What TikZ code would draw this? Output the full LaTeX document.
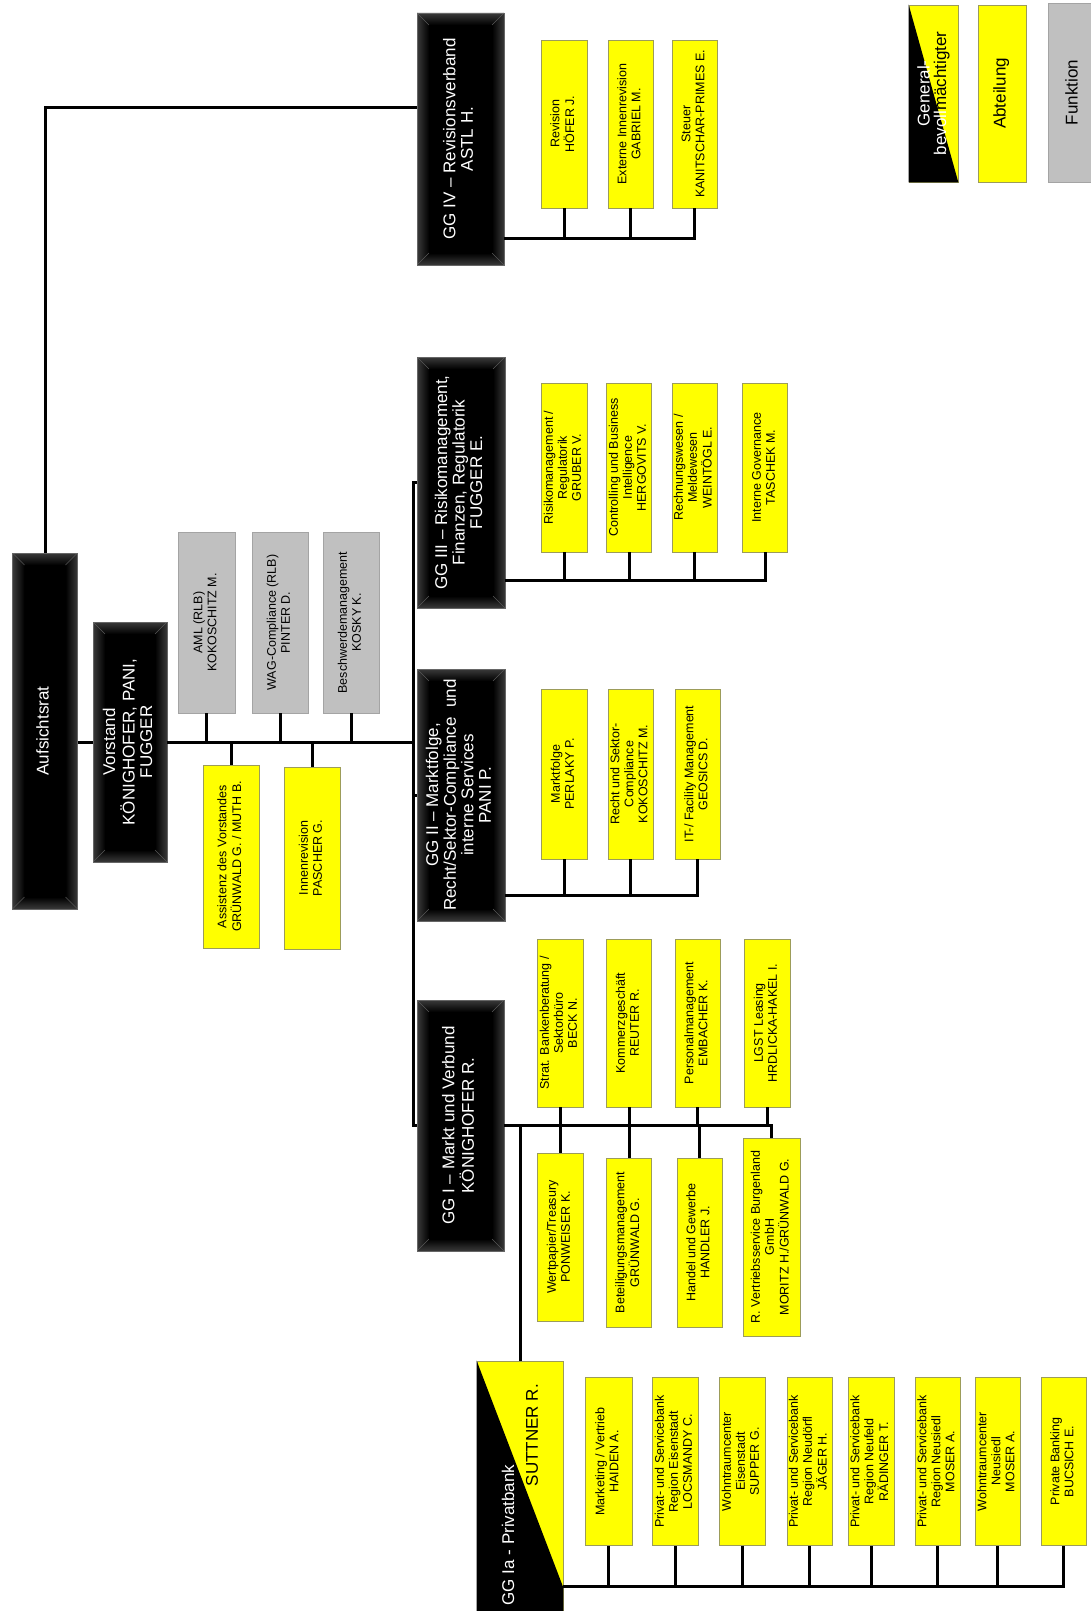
\documentclass[tikz,border=0pt]{standalone}
\usepackage{fontspec}
\setmainfont{Liberation Sans}
\usepackage{graphicx}
\usetikzlibrary{calc}

\definecolor{boxyellow}{HTML}{FFFF00}
\definecolor{yborder}{HTML}{9C9C5A}
\definecolor{funcgray}{HTML}{C0C0C0}
\definecolor{gborder}{HTML}{A4A4A4}
\definecolor{bevedge}{HTML}{3A3A3A}

% text set bottom-to-top inside a box
\newcommand\vtext[1]{\rotatebox{90}{\begin{tabular}{@{}c@{}}#1\end{tabular}}}

\begin{document}
\begin{tikzpicture}[
  x=1pt, y=1pt,
  conn/.style={line width=3pt, black},
  sz/.style 2 args={minimum width=#1, minimum height=#2},
  bevel/.style={path picture={
    \coordinate (q1) at (path picture bounding box.north west);
    \coordinate (q2) at (path picture bounding box.north east);
    \coordinate (q3) at (path picture bounding box.south east);
    \coordinate (q4) at (path picture bounding box.south west);
    \shade[top color=bevedge, bottom color=black]
      (q1) -- (q2) -- ([shift={(-12,-12)}]q2) -- ([shift={(12,-12)}]q1) -- cycle;
    \shade[left color=black, right color=bevedge]
      (q2) -- (q3) -- ([shift={(-12,12)}]q3) -- ([shift={(-12,-12)}]q2) -- cycle;
    \shade[top color=black, bottom color=bevedge]
      (q3) -- (q4) -- ([shift={(12,12)}]q4) -- ([shift={(-12,12)}]q3) -- cycle;
    \shade[left color=bevedge, right color=black]
      (q4) -- (q1) -- ([shift={(12,-12)}]q1) -- ([shift={(12,12)}]q4) -- cycle;
    \draw[black!65, line width=0.5pt]
      (q1) -- ([shift={(12,-12)}]q1) (q2) -- ([shift={(-12,-12)}]q2)
      (q3) -- ([shift={(-12,12)}]q3) (q4) -- ([shift={(12,12)}]q4);
  }},
  blackbox/.style={fill=black, draw=black!60, line width=0.6pt, text=white,
    inner sep=0pt, font=\fontsize{17}{17.5}\selectfont, bevel},
  deptbox/.style={fill=boxyellow, draw=yborder, line width=0.7pt,
    inner sep=0pt, font=\fontsize{12.5}{14}\selectfont},
  funcbox/.style={fill=funcgray, draw=gborder, line width=0.7pt,
    inner sep=0pt, font=\fontsize{12.5}{14}\selectfont},
  bigtext/.style={font=\fontsize{17}{16.5}\selectfont, inner sep=0pt}
]
\useasboundingbox[fill=white] (0,0) rectangle (1090,-1611);

% ---------- board and executive board ----------
\node[blackbox, sz={65}{356}] (aufs) at (45,-731) {\vtext{Aufsichtsrat}};
\node[blackbox, sz={74}{240}] (vor) at (130,-742) {\vtext{Vorstand\\KÖNIGHOFER, PANI,\\FUGGER}};

\node[funcbox, sz={57}{181}] (aml) at (206.5,-622.5) {\vtext{AML (RLB)\\KOKOSCHITZ M.}};
\node[funcbox, sz={56}{181}] (wag) at (280,-622.5) {\vtext{WAG-Compliance (RLB)\\PINTER D.}};
\node[funcbox, sz={56}{181}] (besch) at (351,-622.5) {\vtext{Beschwerdemanagement\\KOSKY K.}};

\node[deptbox, sz={56}{183}] (assist) at (231,-856.5) {\vtext{Assistenz des Vorstandes\\GRÜNWALD G. / MUTH B.}};
\node[deptbox, sz={56}{182}] (innrev) at (312,-858) {\vtext{Innenrevision\\PASCHER G.}};

% ---------- business areas ----------
\node[blackbox, sz={87}{252}] (gg4) at (460.5,-139) {\vtext{GG IV – Revisionsverband\\ASTL H.}};
\node[blackbox, sz={88}{251}] (gg3) at (461,-482.5) {\vtext{GG III – Risikomanagement,\\Finanzen, Regulatorik\\FUGGER E.}};
\node[blackbox, sz={88}{252}] (gg2) at (461,-795) {\vtext{GG II – Marktfolge,\\Recht/Sektor-Compliance\ \ und\\interne Services\\PANI P.}};
\node[blackbox, sz={87}{251}] (gg1) at (460.5,-1125.5) {\vtext{GG I – Markt und Verbund\\KÖNIGHOFER R.}};

% GG IV departments
\node[deptbox, sz={46}{168}] (rev) at (564,-124) {\vtext{Revision\\HÖFER J.}};
\node[deptbox, sz={45}{168}] (ext) at (630.5,-124) {\vtext{Externe Innenrevision\\GABRIEL M.}};
\node[deptbox, sz={45}{168}] (steuer) at (694.5,-124) {\vtext{Steuer\\KANITSCHAR-PRIMES E.}};

% GG III departments
\node[deptbox, sz={46}{169}] (risk) at (564,-467.5) {\vtext{Risikomanagement /\\Regulatorik\\GRUBER V.}};
\node[deptbox, sz={45}{169}] (contr) at (629,-467.5) {\vtext{Controlling und Business\\Intelligence\\HERGOVITS V.}};
\node[deptbox, sz={45}{169}] (rechn) at (694.5,-467.5) {\vtext{Rechnungswesen /\\Meldewesen\\WEINTÖGL E.}};
\node[deptbox, sz={45}{169}] (gov) at (765,-467.5) {\vtext{Interne Governance\\TASCHEK M.}};

% GG II departments
\node[deptbox, sz={46}{170}] (mf) at (564,-774) {\vtext{Marktfolge\\PERLAKY P.}};
\node[deptbox, sz={45}{170}] (recht) at (630.5,-774) {\vtext{Recht und Sektor-\\Compliance\\KOKOSCHITZ M.}};
\node[deptbox, sz={45}{170}] (it) at (697.5,-774) {\vtext{IT-/ Facility Management\\GEOSICS D.}};

% GG I departments
\node[deptbox, sz={46}{168}] (strat) at (560,-1023) {\vtext{Strat. Bankenberatung /\\Sektorbüro\\BECK N.}};
\node[deptbox, sz={45}{168}] (kommerz) at (629,-1023) {\vtext{Kommerzgeschäft\\REUTER R.}};
\node[deptbox, sz={45}{168}] (personal) at (697.5,-1023) {\vtext{Personalmanagement\\EMBACHER K.}};
\node[deptbox, sz={46}{168}] (lgst) at (767,-1023) {\vtext{LGST Leasing\\HRDLICKA-HAKEL I.}};
\node[deptbox, sz={46}{168}] (wert) at (560,-1237) {\vtext{Wertpapier/Treasury\\PONWEISER K.}};
\node[deptbox, sz={45}{169}] (beteil) at (629,-1242.5) {\vtext{Beteiligungsmanagement\\GRÜNWALD G.}};
\node[deptbox, sz={45}{169}] (handel) at (699.5,-1242.5) {\vtext{Handel und Gewerbe\\HANDLER J.}};
\node[deptbox, sz={57}{198}] (rvs) at (771.5,-1237) {\vtext{R. Vertriebsservice Burgenland\\GmbH\\MORITZ H./GRÜNWALD G.}};

% GG Ia private bank (split colour box)
\node[fill=boxyellow, draw=yborder, line width=0.7pt, sz={86}{260}] (gg1a) at (520,-1491) {};
\fill[black] (gg1a.north west) -- ($(gg1a.north east)+(0,-227)$) -- (gg1a.south east) -- (gg1a.south west) -- cycle;
\node[bigtext, rotate=90, text=black] (suttner) at (532,-1435) {SUTTNER R.};
\node[bigtext, rotate=90, text=white] (privat) at (508,-1535) {GG Ia - Privatbank};

\node[deptbox, sz={47}{168}] (mkt) at (608.5,-1461.5) {\vtext{Marketing / Vertrieb\\HAIDEN A.}};
\node[deptbox, sz={46}{168}] (pse) at (675,-1461.5) {\vtext{Privat- und Servicebank\\Region Eisenstadt\\LOCSMANDY C.}};
\node[deptbox, sz={46}{168}] (wte) at (742,-1461.5) {\vtext{Wohntraumcenter\\Eisenstadt\\SUPPER G.}};
\node[deptbox, sz={45}{168}] (psn) at (809.5,-1461.5) {\vtext{Privat- und Servicebank\\Region Neudörfl\\JÄGER H.}};
\node[deptbox, sz={46}{168}] (psf) at (871,-1461.5) {\vtext{Privat- und Servicebank\\Region Neufeld\\RÄDINGER T.}};
\node[deptbox, sz={45}{168}] (psd) at (937.5,-1461.5) {\vtext{Privat- und Servicebank\\Region Neusiedl\\MOSER A.}};
\node[deptbox, sz={45}{168}] (wtn) at (997.5,-1461.5) {\vtext{Wohntraumcenter\\Neusiedl\\MOSER A.}};
\node[deptbox, sz={45}{168}] (pbk) at (1063.5,-1461.5) {\vtext{Private Banking\\BUCSICH E.}};

% ---------- legend ----------
\node[fill=boxyellow, draw=yborder, line width=0.7pt, sz={49}{177}] (lg1) at (933.5,-93.5) {};
\fill[black] (lg1.north west) -- (lg1.south east) -- (lg1.south west) -- cycle;
\node[bigtext, rotate=90, align=center] (lg1t) at (lg1) {\textcolor{white}{General-}\\\textcolor{white}{bevoll}mächtigter};
\node[deptbox, sz={48}{177}, font=\fontsize{17}{17}\selectfont] (lg2) at (1002,-93.5) {\vtext{Abteilung}};
\node[funcbox, sz={52}{179}, font=\fontsize{17}{17}\selectfont] (lg3) at (1074,-92.5) {\vtext{Funktion}};

% ---------- connectors ----------
\coordinate (spine) at (413,0);
\coordinate (k4) at (0,-107);
\coordinate (b4) at (0,-238);
\coordinate (b3) at (0,-580);
\coordinate (b2) at (0,-895);
\coordinate (ba) at (0,-1586);

\draw[conn] (aufs.north) |- (gg4.west |- k4);
\draw[conn] (aufs.east |- vor.west) -- (vor.west);
\draw[conn] (vor.east) -- (vor.east -| spine);
\foreach \n in {aml,wag,besch} \draw[conn] (\n.south) -- (\n.south |- vor.east);
\foreach \n in {assist,innrev} \draw[conn] (\n.north) -- (\n.north |- vor.east);

\draw[conn] (gg3.west) -- (gg3.west -| spine) -- (gg1.west -| spine) -- (gg1.west);
\draw[conn] (gg2.west -| spine) -- (gg2.west);

\draw[conn] (gg4.east |- b4) -| (steuer.south);
\foreach \n in {rev,ext} \draw[conn] (\n.south) -- (\n.south |- b4);

\draw[conn] (gg3.east |- b3) -| (gov.south);
\foreach \n in {risk,contr,rechn} \draw[conn] (\n.south) -- (\n.south |- b3);

\draw[conn] (gg2.east |- b2) -| (it.south);
\foreach \n in {mf,recht} \draw[conn] (\n.south) -- (\n.south |- b2);

\draw[conn] (gg1.east) -| (rvs.north);
\foreach \n in {strat,kommerz,personal,lgst} \draw[conn] (\n.south) -- (\n.south |- gg1.east);
\foreach \n in {wert,beteil,handel} \draw[conn] (\n.north) -- (\n.north |- gg1.east);
\draw[conn] (gg1a.north) -- (gg1a.north |- gg1.east);

\draw[conn] (gg1a.east |- ba) -| (pbk.south);
\foreach \n in {mkt,pse,wte,psn,psf,psd,wtn} \draw[conn] (\n.south) -- (\n.south |- ba);
\end{tikzpicture}
\end{document}
